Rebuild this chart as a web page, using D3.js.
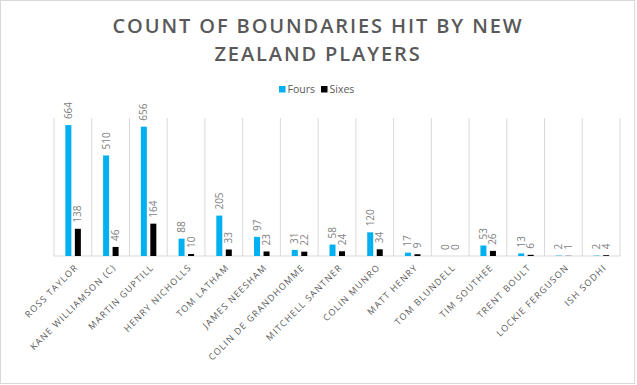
<!DOCTYPE html>
<html lang="en">
<head>
<meta charset="UTF-8" />
<title>Count of Boundaries Hit by New Zealand Players</title>
<style>
  body { margin: 0; background: #fff; }
  svg { display: block; font-family: "Open Sans", sans-serif; }
  .title { font-size: 20px; font-weight: 600; fill: #595959; letter-spacing: 1.9px; }
  .legend text { font-size: 10.5px; fill: #595959; }
  .xlab { font-size: 9px; fill: #595959; letter-spacing: 1.2px; }
  .val { font-size: 10px; fill: #7f7f7f; }
</style>
</head>
<body>
<svg id="chart" width="637" height="385"></svg>
<script src="https://cdn.jsdelivr.net/npm/d3@7"></script>
<script>
const players = ["ROSS TAYLOR", "KANE WILLIAMSON (C)", "MARTIN GUPTILL", "HENRY NICHOLLS", "TOM LATHAM",
  "JAMES NEESHAM", "COLIN DE GRANDHOMME", "MITCHELL SANTNER", "COLIN MUNRO", "MATT HENRY",
  "TOM BLUNDELL", "TIM SOUTHEE", "TRENT BOULT", "LOCKIE FERGUSON", "ISH SODHI"];
const fours = [664, 510, 656, 88, 205, 97, 31, 58, 120, 17, 0, 53, 13, 2, 2];
const sixes = [138, 46, 164, 10, 33, 23, 22, 24, 34, 9, 0, 26, 6, 1, 4];
const seriesNames = ["Fours", "Sixes"];
const seriesColors = ["#00b0f0", "#000000"];

const svg = d3.select("#chart");
const plotLeft = 54, plotRight = 620, plotTop = 118, plotBottom = 256;

// outer border
svg.append("rect").attr("x", 0.5).attr("y", 0.5).attr("width", 634).attr("height", 383)
  .attr("fill", "#fff").attr("stroke", "#d9d9d9");

// title
svg.append("text").attr("class", "title").attr("text-anchor", "middle")
  .attr("x", 318).attr("y", 33).text("COUNT OF BOUNDARIES HIT BY NEW");
svg.append("text").attr("class", "title").attr("text-anchor", "middle")
  .attr("x", 318).attr("y", 61).text("ZEALAND PLAYERS");

// legend
const legend = svg.append("g").attr("class", "legend");
const legendX = [279, 321];
seriesNames.forEach((name, i) => {
  legend.append("rect").attr("x", legendX[i]).attr("y", 86).attr("width", 6.5).attr("height", 6.5)
    .attr("fill", seriesColors[i]);
  legend.append("text").attr("x", legendX[i] + 8.5).attr("y", 93).text(name);
});

const x = d3.scaleBand().domain(players).range([plotLeft, plotRight]);
const y = d3.scaleLinear().domain([0, 700]).range([plotBottom, plotTop]);
const barW = 6;
const offsets = [-7.5, 2];

// category separators
const seps = players.map(p => x(p)).concat([plotRight]);
svg.append("g").selectAll("line").data(seps).join("line")
  .attr("x1", d => d).attr("x2", d => d).attr("y1", plotTop).attr("y2", plotBottom)
  .attr("stroke", "#d9d9d9");
svg.append("line").attr("x1", plotLeft).attr("x2", plotRight).attr("y1", plotBottom).attr("y2", plotBottom)
  .attr("stroke", "#d9d9d9");

const data = players.map((p, i) => ({ p, v: [fours[i], sixes[i]] }));

[0, 1].forEach(s => {
  svg.append("g").selectAll("rect").data(data).join("rect")
    .attr("x", d => x(d.p) + x.bandwidth() / 2 + offsets[s])
    .attr("y", d => y(d.v[s]))
    .attr("width", barW)
    .attr("height", d => plotBottom - y(d.v[s]))
    .attr("fill", seriesColors[s]);
  svg.append("g").selectAll("text").data(data).join("text")
    .attr("class", "val")
    .attr("transform", d => `translate(${x(d.p) + x.bandwidth() / 2 + offsets[s] + barW / 2},${y(d.v[s]) - 6}) rotate(-90)`)
    .attr("dy", "0.35em")
    .text(d => d.v[s]);
});

// x labels
svg.append("g").selectAll("text").data(players).join("text")
  .attr("class", "xlab")
  .attr("text-anchor", "end")
  .attr("transform", p => `translate(${x(p) + x.bandwidth() / 2 + 6},${plotBottom + 12}) rotate(-45)`)
  .text(p => p);
</script>
</body>
</html>
